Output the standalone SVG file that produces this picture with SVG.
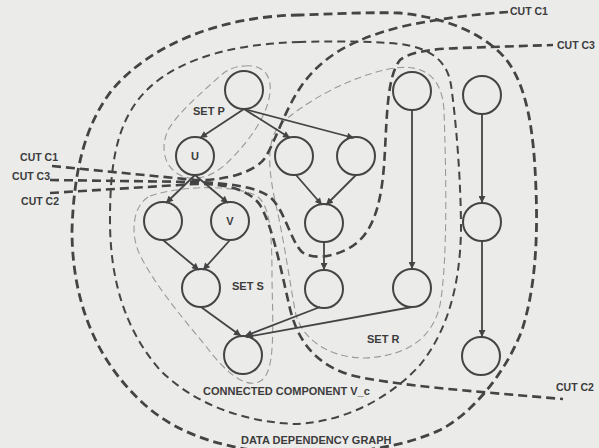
<svg xmlns="http://www.w3.org/2000/svg" width="599" height="448" viewBox="0 0 599 448">
<defs>
<style>
.n{fill:none;stroke:#444;stroke-width:2}
.e{fill:none;stroke:#444;stroke-width:1.8;marker-end:url(#ah)}
.cut{fill:none;stroke:#444;stroke-width:2.6;stroke-dasharray:9 5}
.outer{fill:none;stroke:#444;stroke-width:2.8;stroke-dasharray:9 5}
.vc{fill:none;stroke:#444;stroke-width:2;stroke-dasharray:8 5}
.set{fill:none;stroke:#999;stroke-width:1.1;stroke-dasharray:7 4}
text{font-family:"Liberation Sans",Arial,sans-serif;font-weight:bold;fill:#3c3c3c;font-size:11px}
.cl{font-size:10.5px}
</style>
<marker id="ah" viewBox="0 0 10 10" refX="10" refY="5" markerWidth="8" markerHeight="7" markerUnits="userSpaceOnUse" orient="auto">
<path d="M0,0 L10,5 L0,10 Z" fill="#444"/>
</marker>
</defs>
<rect width="599" height="448" fill="#ebebea"/>
<g id="regions">
<path id="data-dependency-graph" class="outer" d="M300,15 C220,16 150,45 112,90 C85,125 74,170 72,230 C72,300 95,360 145,405 C180,436 230,452 300,454 C360,454 405,446 440,430 C470,415 505,375 522,330 C535,290 538,240 536,190 C534,130 527,85 505,58 C480,30 440,17 400,13 C370,12 330,14 300,15 Z"/>
<path id="connected-component" class="vc" d="M300,42 C220,44 165,65 138,100 C115,130 110,170 110,220 C110,280 125,330 160,370 C195,405 245,422 295,424 C345,422 390,398 420,365 C448,330 460,285 461,230 C461,180 456,120 451,85 C447,60 430,48 400,44 C370,41 330,41 300,42 Z"/>
<path id="set-p" class="set" d="M245,66 C262,64 272,75 270,92 C268,115 250,140 230,160 C215,176 195,183 180,175 C164,167 160,148 168,130 C180,110 205,90 220,76 C228,69 236,66 245,66 Z"/>
<path id="set-s" class="set" d="M150,196 C180,186 230,184 255,195 C270,203 272,230 272,280 C273,330 275,370 262,380 C248,390 228,376 205,345 C180,315 155,285 140,255 C130,235 132,205 150,196 Z"/>
<path id="set-r" class="set" d="M280,125 C300,105 350,75 395,68 C425,64 442,78 444,110 C446,170 448,260 440,305 C432,340 405,356 365,358 C330,358 303,340 296,315 C290,285 285,245 276,205 C268,170 266,140 280,125 Z"/>
</g>
<g id="cuts">
<path id="cut-c1" class="cut" d="M52,166 L195,180 C225,181 255,172 265,158 C275,142 285,110 300,88 C320,58 350,40 400,27 C440,18 480,14 508,12"/>
<path id="cut-c3" class="cut" d="M50,180 L195,182 C225,183 255,186 270,197 C285,210 290,240 302,252 C315,262 345,255 360,240 C378,222 383,190 385,150 C387,110 388,75 400,60 C410,52 430,49 460,48 L553,45"/>
<path id="cut-c2" class="cut" d="M50,193 L195,184 C225,183 250,190 260,205 C272,225 280,265 288,300 C295,335 310,362 350,375 C390,385 480,392 563,399"/>
</g>
<g id="connectors">
<line class="e" x1="244" y1="109" x2="200" y2="138"/>
<line class="e" x1="244" y1="109" x2="290" y2="138"/>
<line class="e" x1="244" y1="109" x2="354" y2="138"/>
<line class="e" x1="195" y1="175" x2="166" y2="203"/>
<line class="e" x1="195" y1="175" x2="228" y2="203"/>
<line class="e" x1="163" y1="240" x2="199" y2="270"/>
<line class="e" x1="230" y1="240" x2="203" y2="270"/>
<line class="e" x1="296" y1="175" x2="322" y2="205"/>
<line class="e" x1="356" y1="175" x2="326" y2="205"/>
<line class="e" x1="324" y1="242" x2="324" y2="270"/>
<line class="e" x1="201" y1="307" x2="241" y2="336"/>
<line class="e" x1="320" y1="307" x2="245" y2="336"/>
<line class="e" x1="412" y1="307" x2="246" y2="337"/>
<line class="e" x1="412" y1="110" x2="412" y2="269"/>
<line class="e" x1="482" y1="114" x2="482" y2="203"/>
<line class="e" x1="482" y1="241" x2="482" y2="337"/>
</g>
<g id="node-p"><circle class="n" cx="244" cy="90" r="19"/></g>
<g id="node-u"><circle class="n" cx="195" cy="156" r="19"/><text x="195" y="160" text-anchor="middle">U</text></g>
<g id="node-a"><circle class="n" cx="294" cy="156" r="19"/></g>
<g id="node-b"><circle class="n" cx="356" cy="156" r="19"/></g>
<g id="node-c"><circle class="n" cx="324" cy="223" r="19"/></g>
<g id="node-d"><circle class="n" cx="324" cy="289" r="19"/></g>
<g id="node-e"><circle class="n" cx="412" cy="91" r="19"/></g>
<g id="node-f"><circle class="n" cx="412" cy="288" r="19"/></g>
<g id="node-g"><circle class="n" cx="482" cy="95" r="19"/></g>
<g id="node-h"><circle class="n" cx="482" cy="222" r="19"/></g>
<g id="node-i"><circle class="n" cx="481" cy="356" r="19"/></g>
<g id="node-x"><circle class="n" cx="163" cy="221" r="19"/></g>
<g id="node-v"><circle class="n" cx="230" cy="221" r="19"/><text x="230" y="225" text-anchor="middle">V</text></g>
<g id="node-s"><circle class="n" cx="201" cy="288" r="19"/></g>
<g id="node-w"><circle class="n" cx="243" cy="355" r="19"/></g>
<g id="labels">
<text class="cl" x="58" y="161" text-anchor="end">CUT C1</text>
<text class="cl" x="50" y="180" text-anchor="end">CUT C3</text>
<text class="cl" x="59" y="205" text-anchor="end">CUT C2</text>
<text class="cl" x="510" y="15">CUT C1</text>
<text class="cl" x="557" y="49">CUT C3</text>
<text class="cl" x="556" y="391">CUT C2</text>
<text x="193" y="115">SET P</text>
<text x="232" y="290">SET S</text>
<text x="367" y="343">SET R</text>
<text x="203" y="395">CONNECTED COMPONENT V_c</text>
<text x="241" y="444">DATA DEPENDENCY GRAPH</text>
</g>
</svg>
